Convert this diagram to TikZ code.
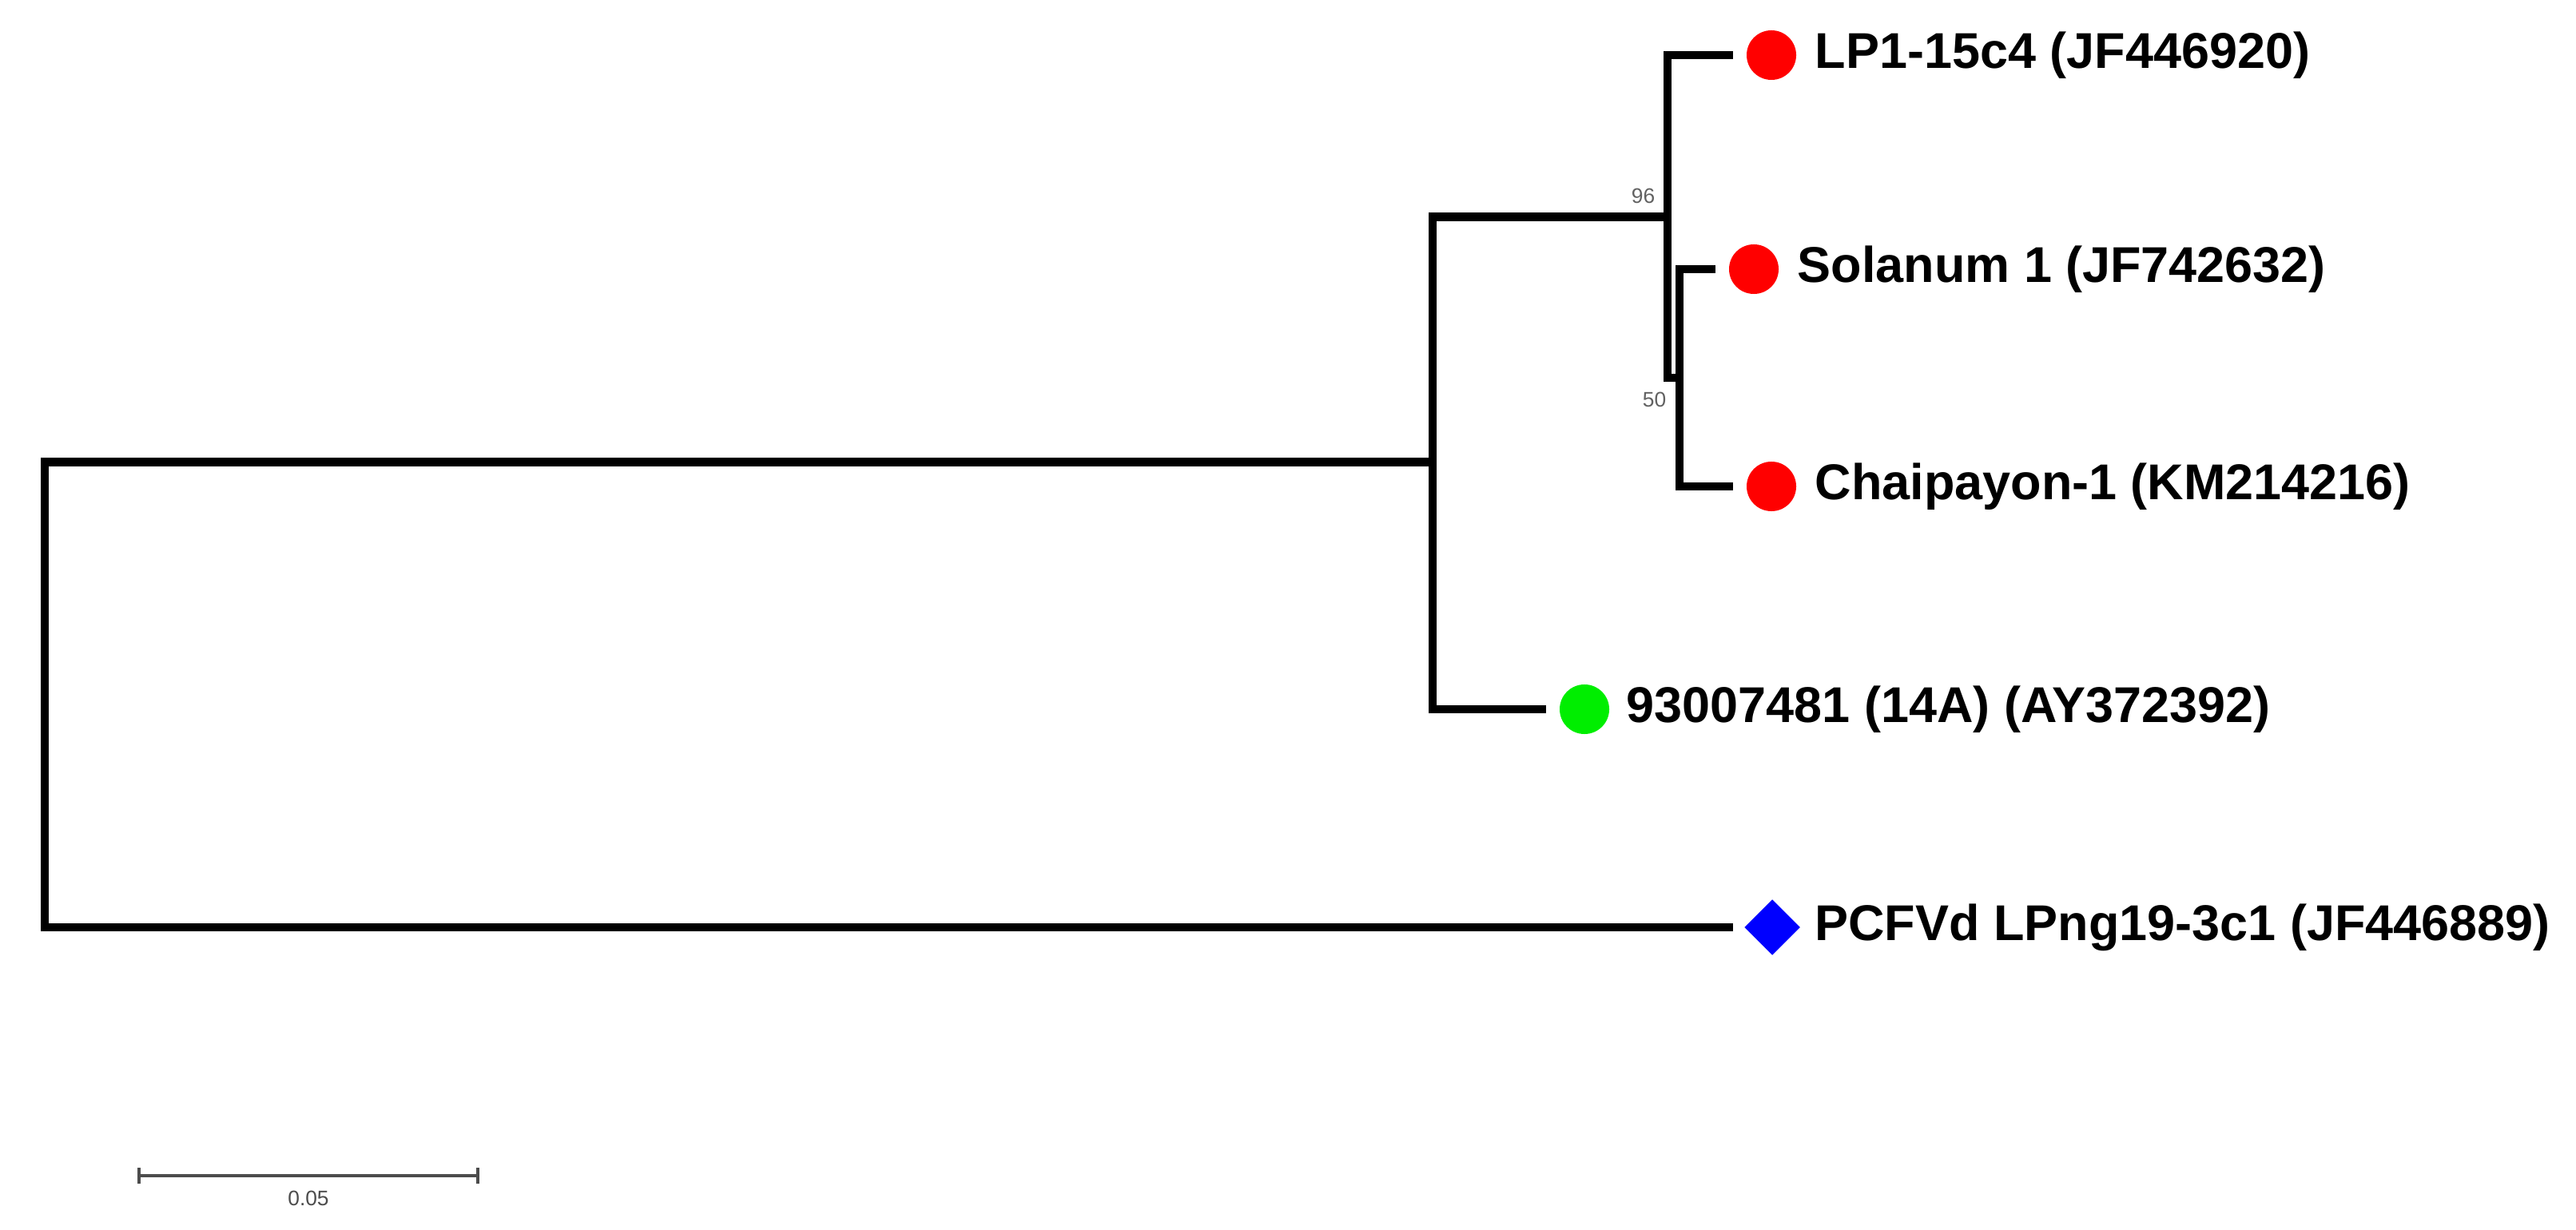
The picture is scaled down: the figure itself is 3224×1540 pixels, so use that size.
\documentclass[tikz,border=0pt]{standalone}
\usepackage{fontspec}
\setmainfont{Liberation Sans}
\usepackage{xcolor}
\usetikzlibrary{positioning,shapes.geometric,arrows.meta}
\definecolor{tipred}{RGB}{255,0,0}
\definecolor{tipgreen}{RGB}{0,238,0}
\definecolor{tipblue}{RGB}{0,0,255}

\begin{document}
\begin{tikzpicture}[x=0.01cm,y=-0.01cm,
  branch/.style={line width=3.1pt,line join=miter},
  tip/.style={circle,inner sep=0pt,minimum size=0.62cm,outer sep=0.17cm},
  taxon/.style={inner sep=0pt,anchor=west,font=\bfseries\fontsize{17.9}{20}\selectfont},
  boot/.style={inner sep=0pt,text=black!62,font=\fontsize{7.5}{8}\selectfont}]
\useasboundingbox (0,0) rectangle (3224,1540);
\coordinate (nR) at (56,870);
\coordinate (nA) at (1793,578.5);
\coordinate (nB) at (2087,271.5);
\coordinate (nC) at (2102,473);
\node[tip,fill=tipred] (tLP) at (2217,69) {};
\node[tip,fill=tipred] (tSol) at (2195,337) {};
\node[tip,fill=tipred] (tCha) at (2217,609) {};
\node[tip,fill=tipgreen] (tGr) at (1983,888) {};
\node[diamond,fill=tipblue,inner sep=0pt,minimum width=0.7cm,minimum height=0.7cm] (tPC) at (2218,1161) {};
\node[taxon,right=0.06cm of tLP] (lLP) {LP1-15c4 (JF446920)};
\node[taxon,right=0.06cm of tSol] (lSol) {Solanum 1 (JF742632)};
\node[taxon,right=0.06cm of tCha] (lCha) {Chaipayon-1 (KM214216)};
\node[taxon,right=0.04cm of tGr] (lGr) {93007481 (14A) (AY372392)};
\node[taxon,right=0.17cm of tPC] (lPC) {PCFVd LPng19-3c1 (JF446889)};
\draw[branch] (nR) |- (nA);
\draw[branch,shorten >=0.13cm] (nR) |- (tPC);
\draw[branch] (nA) |- (nB) (nA) |- (tGr);
\draw[branch] (nB) |- (tLP) (nB) |- (nC);
\draw[branch] (nC) |- (tSol) (nC) |- (tCha);
\node[boot,anchor=south east] (b96) at ([xshift=-0.15cm,yshift=0.16cm]nB) {96};
\node[boot,anchor=north east] (b50) at ([xshift=-0.16cm,yshift=-0.17cm]nC) {50};
\coordinate (s0) at (172,1472);
\coordinate (s1) at (600,1472);
\draw[black!70,line width=1.1pt,{Bar[width=0.2cm]}-{Bar[width=0.2cm]}] (s0) -- (s1) node[boot,text=black!70,midway,below=0.17cm] (sLab) {0.05};
\end{tikzpicture}
\end{document}
